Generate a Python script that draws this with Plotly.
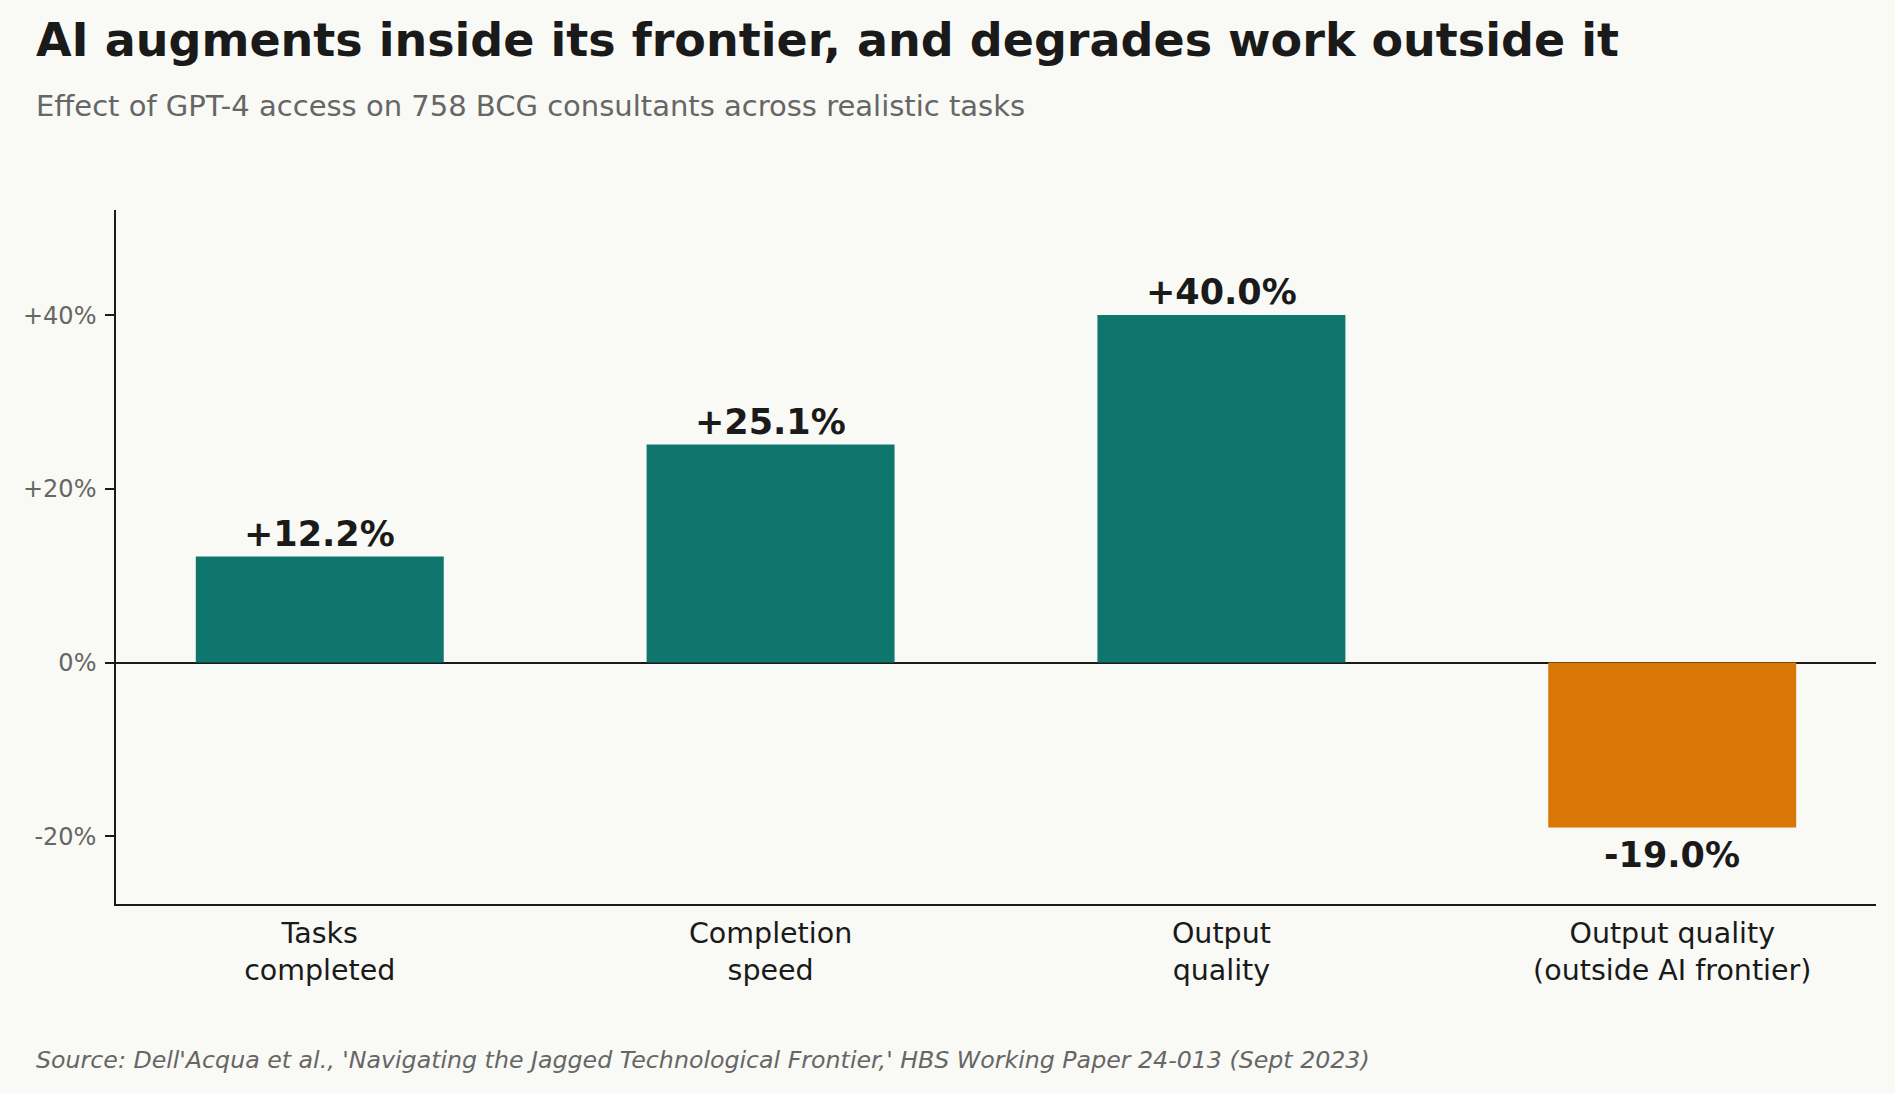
import plotly.graph_objects as go

categories = ["Tasks<br>completed", "Completion<br>speed", "Output<br>quality", "Output quality<br>(outside AI frontier)"]
values = [12.2, 25.1, 40.0, -19.0]
labels = ["+12.2%", "+25.1%", "+40.0%", "-19.0%"]
colors = ["#0F766E", "#0F766E", "#0F766E", "#D97706"]
tick_vals = [-20, 0, 20, 40]
tick_text = ["-20%", "0%", "+20%", "+40%"]

BG = "#F9F9F5"
DARK = "#1A1A1A"
GRAY = "#666666"
FONT = "DejaVu Sans"

fig = go.Figure()
fig.add_trace(go.Bar(
    x=list(range(len(categories))), y=values,
    marker=dict(color=colors, line=dict(width=0)),
    width=0.55, hoverinfo="skip",
))

for i, (v, lab) in enumerate(zip(values, labels)):
    fig.add_annotation(
        x=i, y=v, xref="x", yref="y", text=f"<b>{lab}</b>", showarrow=False,
        yanchor="bottom" if v >= 0 else "top",
        yshift=1 if v >= 0 else -5,
        font=dict(family=FONT, size=35, color=DARK),
    )

fig.update_layout(
    width=1895, height=1093,
    paper_bgcolor=BG, plot_bgcolor=BG,
    margin=dict(l=116, r=19, t=210, b=189),
    showlegend=False,
    font=dict(family=FONT, color=DARK),
    title=dict(
        text="<b>AI augments inside its frontier, and degrades work outside it</b>",
        x=36/1895, xanchor="left", xref="container",
        y=1-40/1093, yanchor="middle", yref="container",
        font=dict(family=FONT, size=46, color=DARK),
    ),
    xaxis=dict(
        range=[-0.452, 3.452], tickmode="array",
        tickvals=list(range(len(categories))), ticktext=categories,
        showgrid=False, zeroline=False,
        showline=True, linecolor=DARK, linewidth=1.5,
        ticks="", ticklen=0, ticklabelstandoff=3,
        tickfont=dict(family=FONT, size=28.5, color=DARK),
    ),
    yaxis=dict(
        range=[-27.8, 52.1], tickmode="array",
        tickvals=tick_vals, ticktext=tick_text,
        showgrid=False,
        zeroline=True, zerolinecolor=DARK, zerolinewidth=1.5,
        showline=True, linecolor=DARK, linewidth=1.5,
        ticks="outside", ticklen=9, tickwidth=1.5, tickcolor=DARK,
        ticklabelstandoff=4,
        tickfont=dict(family=FONT, size=24, color=GRAY),
    ),
)

fig.add_annotation(
    text="Effect of GPT-4 access on 758 BCG consultants across realistic tasks",
    xref="paper", yref="paper", x=(34-116)/1760, y=1+(210-106)/694,
    xanchor="left", yanchor="middle", showarrow=False,
    font=dict(family=FONT, size=29, color=GRAY),
)
fig.add_annotation(
    text="<i>Source: Dell'Acqua et al., 'Navigating the Jagged Technological Frontier,' HBS Working Paper 24-013 (Sept 2023)</i>",
    xref="paper", yref="paper", x=(34-116)/1760, y=(904-1060)/694,
    xanchor="left", yanchor="middle", showarrow=False,
    font=dict(family=FONT, size=23.7, color=GRAY),
)

fig.write_html("out.html")
